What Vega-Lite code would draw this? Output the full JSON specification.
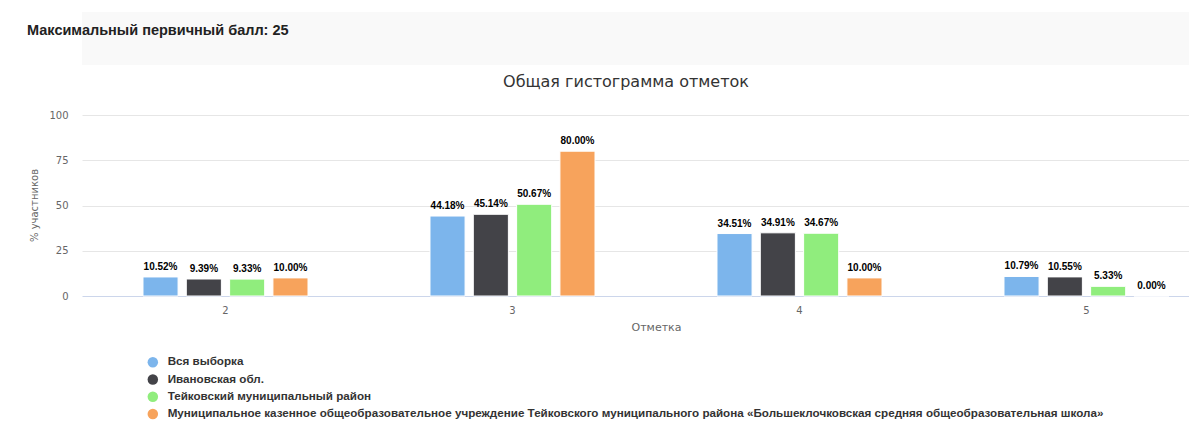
{
  "$schema": "https://vega.github.io/schema/vega-lite/v6.json",
  "background": "#ffffff",
  "padding": {"left": 10, "top": 12, "right": 0, "bottom": 0},
  "columns": 1,
  "align": "none",
  "bounds": "full",
  "spacing": 9,
  "config": {"font": "DejaVu Sans", "view": {"stroke": null}},
  "concat": [
    {
      "width": 1107,
      "height": 53,
      "view": {"fill": "#f9f9f9", "stroke": null},
      "title": {
        "text": "Максимальный первичный балл: 25",
        "anchor": "start",
        "frame": "group",
        "dx": -55,
        "offset": -26,
        "font": "Liberation Sans",
        "fontSize": 14.5,
        "fontWeight": "bold",
        "color": "#222222"
      },
      "data": {"values": [{"t": ""}]},
      "mark": {"type": "text"},
      "encoding": {"text": {"field": "t", "type": "nominal"}}
    },
    {
      "width": 1107,
      "height": 181,
      "title": {
        "text": "Общая гистограмма отметок",
        "anchor": "middle",
        "frame": "group",
        "dx": -9.5,
        "offset": 20,
        "font": "DejaVu Sans",
        "fontSize": 16,
        "fontWeight": "normal",
        "color": "#333333"
      },
      "data": {
        "values": [
          {"otm": "2", "group": "Вся выборка", "pct": 10.52},
          {"otm": "2", "group": "Ивановская обл.", "pct": 9.39},
          {"otm": "2", "group": "Тейковский муниципальный район", "pct": 9.33},
          {"otm": "2", "group": "Муниципальное казенное общеобразовательное учреждение Тейковского муниципального района «Большеклочковская средняя общеобразовательная школа»", "pct": 10.0},
          {"otm": "3", "group": "Вся выборка", "pct": 44.18},
          {"otm": "3", "group": "Ивановская обл.", "pct": 45.14},
          {"otm": "3", "group": "Тейковский муниципальный район", "pct": 50.67},
          {"otm": "3", "group": "Муниципальное казенное общеобразовательное учреждение Тейковского муниципального района «Большеклочковская средняя общеобразовательная школа»", "pct": 80.0},
          {"otm": "4", "group": "Вся выборка", "pct": 34.51},
          {"otm": "4", "group": "Ивановская обл.", "pct": 34.91},
          {"otm": "4", "group": "Тейковский муниципальный район", "pct": 34.67},
          {"otm": "4", "group": "Муниципальное казенное общеобразовательное учреждение Тейковского муниципального района «Большеклочковская средняя общеобразовательная школа»", "pct": 10.0},
          {"otm": "5", "group": "Вся выборка", "pct": 10.79},
          {"otm": "5", "group": "Ивановская обл.", "pct": 10.55},
          {"otm": "5", "group": "Тейковский муниципальный район", "pct": 5.33},
          {"otm": "5", "group": "Муниципальное казенное общеобразовательное учреждение Тейковского муниципального района «Большеклочковская средняя общеобразовательная школа»", "pct": 0.0}
        ]
      },
      "encoding": {
        "x": {
          "field": "otm",
          "type": "nominal",
          "sort": ["2", "3", "4", "5"],
          "title": "Отметка",
          "scale": {"range": [0, 1148], "paddingInner": 0.425, "paddingOuter": 0.2125},
          "axis": {
            "labelAngle": 0,
            "ticks": false,
            "domain": false,
            "grid": false,
            "labelPadding": 9,
            "labelFont": "DejaVu Sans",
            "labelFontSize": 10,
            "labelColor": "#666666",
            "titleFont": "DejaVu Sans",
            "titleFontSize": 11,
            "titleFontWeight": "normal",
            "titleColor": "#666666",
            "titlePadding": 6
          }
        },
        "xOffset": {
          "field": "group",
          "type": "nominal",
          "sort": null,
          "scale": {"paddingInner": 0.19, "paddingOuter": 0}
        },
        "y": {
          "field": "pct",
          "type": "quantitative",
          "title": "% участников",
          "scale": {"domain": [0, 100], "nice": false},
          "axis": {
            "values": [0, 25, 50, 75, 100],
            "ticks": false,
            "domain": false,
            "labelPadding": 14,
            "labelFont": "DejaVu Sans",
            "labelFontSize": 10,
            "labelColor": "#666666",
            "gridColor": {"condition": {"test": "datum.value === 0", "value": "#ccd6eb"}, "value": "#e6e6e6"},
            "titleFont": "DejaVu Sans",
            "titleFontSize": 10,
            "titleFontWeight": "normal",
            "titleColor": "#666666",
            "titleX": -48,
            "titleY": 90,
            "titleAngle": -90,
            "titleAlign": "center",
            "titleBaseline": "middle",
            "minExtent": 72
          }
        }
      },
      "layer": [
        {
          "mark": {"type": "bar", "stroke": "#ffffff", "strokeWidth": 1},
          "encoding": {
            "color": {
              "field": "group",
              "type": "nominal",
              "sort": null,
              "scale": {
                "domain": ["Вся выборка", "Ивановская обл.", "Тейковский муниципальный район", "Муниципальное казенное общеобразовательное учреждение Тейковского муниципального района «Большеклочковская средняя общеобразовательная школа»"],
                "range": ["#7cb5ec", "#434348", "#90ed7d", "#f7a35c"]
              },
              "legend": {
                "orient": "none",
                "legendX": 65,
                "legendY": 344.5,
                "title": null,
                "symbolType": "circle",
                "symbolSize": 110,
                "symbolStrokeWidth": 0,
                "labelFont": "Liberation Sans",
                "labelFontSize": 11.65,
                "labelFontWeight": "bold",
                "labelColor": "#333333",
                "labelLimit": 2000,
                "labelOffset": 9,
                "rowPadding": 4.2,
                "padding": 0
              }
            }
          }
        },
        {
          "mark": {
            "type": "text",
            "baseline": "alphabetic",
            "dy": -7,
            "font": "Liberation Sans",
            "fontSize": 10,
            "fontWeight": "bold",
            "color": "#000000",
            "text": {"expr": "format(datum.pct, '.2f') + '%'"}
          }
        }
      ]
    }
  ]
}
